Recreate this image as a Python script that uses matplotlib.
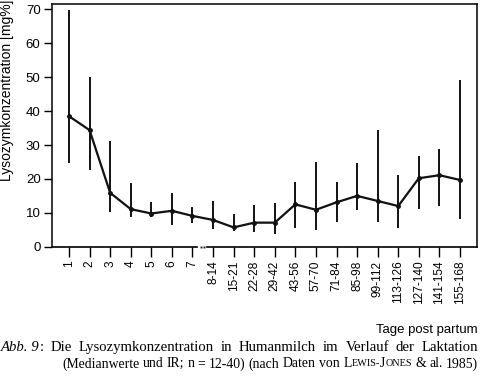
import numpy as np
import matplotlib.pyplot as plt

plt.rcParams['font.family'] = ['Liberation Sans', 'DejaVu Sans']

# Tage post partum
tage = ['1', '2', '3', '4', '5', '6', '7', '8-14', '15-21', '22-28', '29-42',
        '43-56', '57-70', '71-84', '85-98', '99-112', '113-126', '127-140',
        '141-154', '155-168']
median = [38.5, 34.4, 15.9, 11.1, 9.8, 10.6, 9.1, 7.9, 5.7, 7.1, 7.1,
          12.5, 10.9, 13.1, 15.0, 13.5, 12.0, 20.2, 21.1, 19.7]
ir_oben = [69.8, 50.1, 31.3, 18.9, 13.2, 15.9, 11.8, 13.6, 9.8, 12.3, 12.8,
           19.2, 25.1, 19.2, 24.8, 34.4, 21.2, 26.8, 28.7, 49.2]
ir_unten = [24.6, 22.6, 10.2, 8.7, 8.7, 6.3, 7.1, 5.3, 4.7, 4.4, 3.7,
            5.6, 4.9, 7.3, 10.8, 7.3, 5.6, 11.2, 12.0, 8.1]

x = np.arange(len(tage))
med = np.array(median)
yerr = [med - np.array(ir_unten), np.array(ir_oben) - med]

fig = plt.figure(figsize=(4.8, 3.79), dpi=100)
ax = fig.add_axes([0.1077, 0.349, 0.8853, 0.6404])

ax.errorbar(x, med, yerr=yerr, color='#111111', lw=1.6, elinewidth=1.4,
            capsize=0, marker='o', ms=2.5)

ax.set_xlim(-0.84, 19.81)
ax.set_ylim(0, 71.6)
ax.set_yticks(np.arange(0, 71, 10))
ax.set_xticks(x)
ax.set_xticklabels(tage, rotation=90, fontsize=8.6)
ax.tick_params(axis='y', labelsize=9.5, length=6, width=1, direction='out', pad=2)
ax.tick_params(axis='x', length=7, width=1, direction='out', pad=3)
ax.set_ylabel('Lysozymkonzentration [mg%]', fontsize=10)
ax.yaxis.set_label_coords(-0.088, 0.645)
for s in ['left', 'top', 'right']:
    ax.spines[s].set_linewidth(1.1)

# unterbrochene x-Achse zwischen 7 und 8-14
ax.spines['bottom'].set_visible(False)
tr = ax.get_xaxis_transform()
ax.plot([-0.84, 6.24], [0, 0], color='black', lw=1.2, transform=tr, clip_on=False)
ax.plot([6.72, 19.81], [0, 0], color='black', lw=1.2, transform=tr, clip_on=False)
ax.plot([6.40, 6.55], [0, 0], ls='none', marker='s', ms=1.4, mew=0,
        color='#222222', transform=tr, clip_on=False)

fig.text(0.995, 0.128, 'Tage post partum', ha='right', va='center', fontsize=9.5)

# Bildunterschrift, Blocksatz
serif = ['Liberation Serif', 'DejaVu Serif']
fig.canvas.draw()
r = fig.canvas.get_renderer()
W = fig.bbox.width


def zeile(woerter, x0, x1, y):
    stuecke = []
    breite = 0
    for wort in woerter:
        ts = []
        for txt, f, st in wort:
            t = fig.text(0, y, txt, fontsize=f, family=serif, style=st, va='center')
            w = t.get_window_extent(r).width
            ts.append((t, w))
            breite += w
        stuecke.append(ts)
    luecke = (x1 - x0 - breite) / (len(stuecke) - 1)
    pos = x0
    for ts in stuecke:
        for t, w in ts:
            t.set_x(pos / W)
            pos += w
        pos += luecke


fs1 = 10.6
fs = 9.9
kl = 7.4
zeile([[('Abb. 9', fs1, 'italic'), (':', fs1, 'normal')]] +
      [[(w, fs1, 'normal')] for w in
       'Die Lysozymkonzentration in Humanmilch im Verlauf der Laktation'.split()],
      1, 478, 0.082)
zeile([[(w, fs, 'normal')] for w in
       '(Medianwerte und IR; n = 12-40) (nach Daten von'.split()] +
      [[('L', fs, 'normal'), ('EWIS-', kl, 'normal'), ('J', fs, 'normal'),
        ('ONES', kl, 'normal')],
       [('&', fs, 'normal')], [('al.', fs, 'normal')], [('1985)', fs, 'normal')]],
      62, 478, 0.040)

fig.savefig('out.png', dpi=100)
